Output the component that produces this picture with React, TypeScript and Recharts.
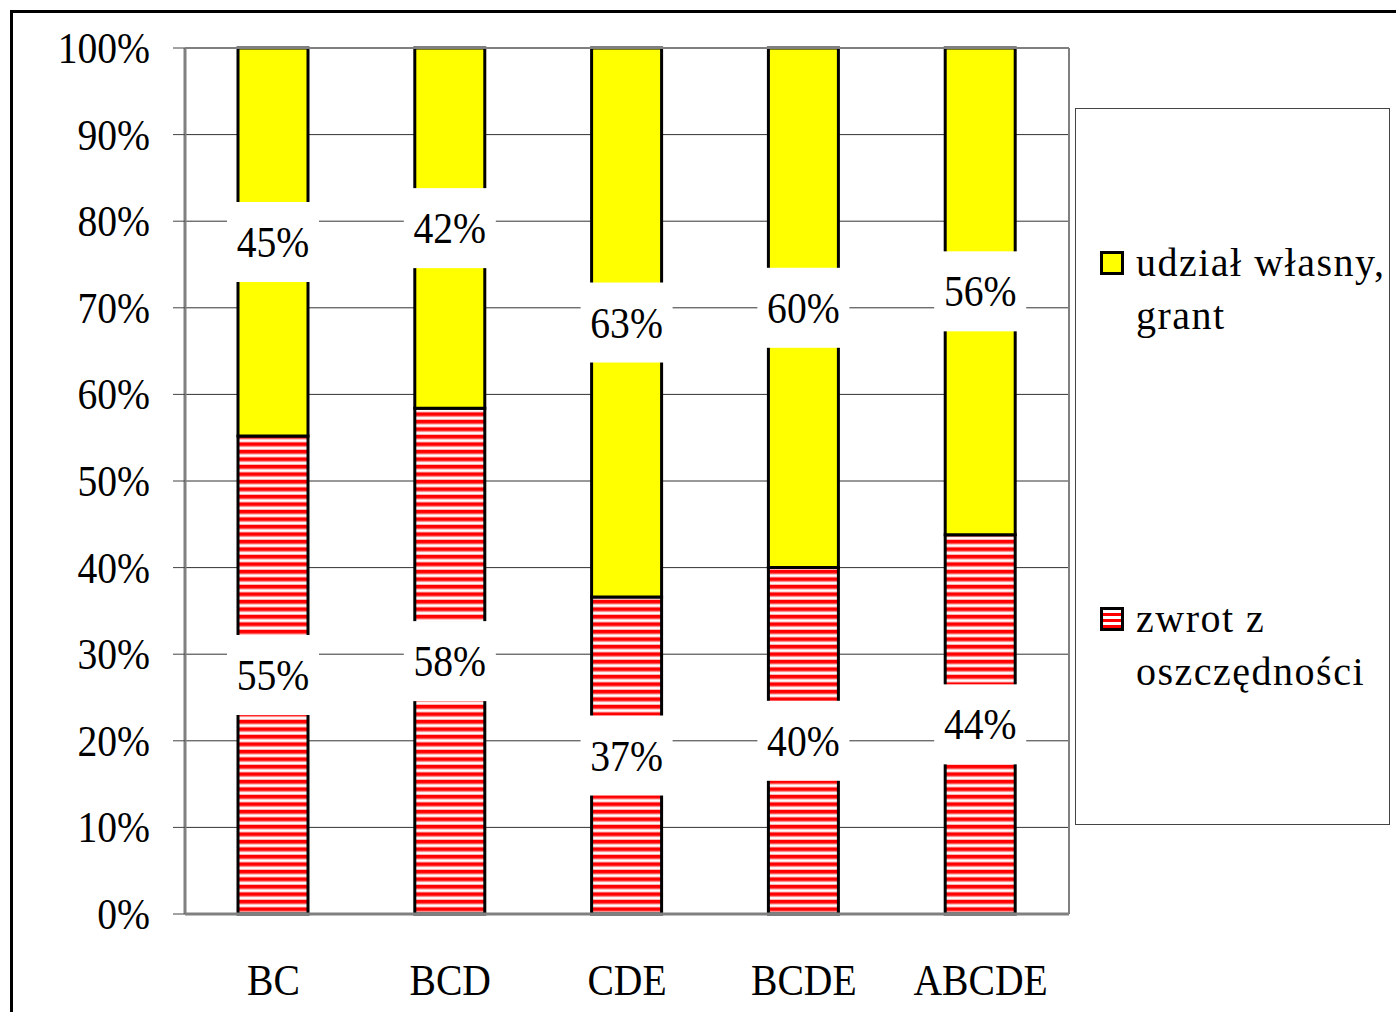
import React from 'react';
import { BarChart, Bar, XAxis, YAxis, CartesianGrid, LabelList } from 'recharts';

const categories = ['BC', 'BCD', 'CDE', 'BCDE', 'ABCDE'];
const zwrotValues = [55.2, 58.4, 36.6, 40.0, 43.8];
const udzialValues = [44.8, 41.6, 63.4, 60.0, 56.2];
const yTicks = [0, 10, 20, 30, 40, 50, 60, 70, 80, 90, 100];
const boundaryTicks = [0, 1, 2, 3, 4, 5];
const legendLines = {
  udzial: ['udział własny,', 'grant'],
  zwrot: ['zwrot z', 'oszczędności'],
};

const data = categories.map((name, i) => ({ name, zwrot: zwrotValues[i], udzial: udzialValues[i] }));

const FONT = 'Liberation Serif';

const BoxLabel = (props: any) => {
  const { x, y, width, height, value } = props;
  const cx = x + width / 2;
  const cy = y + height / 2;
  return (
    <g>
      <rect x={cx - 46} y={cy - 40} width={92} height={80} fill="#ffffff" />
      <text
        x={cx}
        y={cy + 15}
        textAnchor="middle"
        fontSize={44}
        style={{ fontFamily: FONT }}
        fill="#000"
        transform={`translate(${cx} 0) scale(0.9 1) translate(${-cx} 0)`}
      >
        {Math.round(value)}%
      </text>
    </g>
  );
};

const AxisTick = (props: any) => {
  const { x, y, payload, textAnchor, suffix, dyOff } = props;
  return (
    <text
      x={x}
      y={y + dyOff}
      textAnchor={textAnchor}
      fontSize={44}
      fill="#000"
      style={{ fontFamily: FONT }}
      transform={`translate(${x} 0) scale(0.9 1) translate(${-x} 0)`}
    >
      {payload.value}
      {suffix}
    </text>
  );
};

const Swatch = ({ fill }: { fill: string }) => (
  <svg width={24} height={24} style={{ position: 'absolute', left: 0, top: 15 }}>
    <defs>
      <pattern id="legendStripes" patternUnits="userSpaceOnUse" width={8} height={6}>
        <rect width={8} height={6} fill="#ffffff" />
        <rect y={0} width={8} height={3} fill="#ff0000" />
      </pattern>
    </defs>
    <rect x={1.5} y={1.5} width={21} height={21} fill={fill} stroke="#000" strokeWidth={3} />
  </svg>
);

export default function App() {
  return (
    <div style={{ position: 'absolute', left: 0, top: 0, width: 1396, height: 1012, overflow: 'hidden', background: '#fff' }}>
      <div style={{ position: 'absolute', left: 10, top: 10, width: 1500, height: 1100, border: '3px solid #000' }} />
      <div style={{ position: 'absolute', left: 0, top: 0 }}>
        <BarChart
          width={1396}
          height={1012}
          data={data}
          margin={{ top: 47, right: 326, bottom: 0, left: 0 }}
          style={{ fontFamily: FONT }}
        >
          <defs>
            <pattern id="redStripes" patternUnits="userSpaceOnUse" width={10} height={7.5}>
              <rect width={10} height={7.5} fill="#ffffff" />
              <rect y={0} width={10} height={3.6} fill="#ff0000" />
              <rect y={3.6} width={10} height={1} fill="#ff9c9c" />
              <rect y={6.5} width={10} height={1} fill="#ffb0b0" />
            </pattern>
          </defs>
          <CartesianGrid vertical={false} stroke="#333" strokeWidth={1} yAxisId="l" xAxisId="cat" />
          <XAxis
            xAxisId="b"
            type="number"
            domain={[0, 5]}
            ticks={boundaryTicks}
            allowDataOverflow
            tick={false}
            tickSize={12}
            height={12}
            axisLine={{ stroke: '#808080', strokeWidth: 3 }}
            tickLine={{ stroke: '#555' }}
          />
          <XAxis
            xAxisId="cat"
            dataKey="name"
            axisLine={false}
            tickLine={false}
            height={86}
            tickMargin={33}
            tick={<AxisTick suffix="" dyOff={30} />}
          />
          <XAxis
            xAxisId="t"
            orientation="top"
            type="number"
            domain={[0, 5]}
            allowDataOverflow
            height={1}
            tick={false}
            tickLine={false}
            axisLine={{ stroke: '#808080', strokeWidth: 2 }}
          />
          <YAxis
            yAxisId="l"
            domain={[0, 100]}
            ticks={yTicks}
            width={185}
            tickSize={12}
            tickMargin={23}
            axisLine={{ stroke: '#808080', strokeWidth: 3 }}
            tickLine={{ stroke: '#444' }}
            tick={<AxisTick suffix="%" dyOff={15} />}
          />
          <YAxis
            yAxisId="r"
            orientation="right"
            domain={[0, 100]}
            width={1}
            tick={false}
            tickLine={false}
            axisLine={{ stroke: '#808080', strokeWidth: 2 }}
          />
          <Bar
            dataKey="zwrot"
            stackId="s"
            xAxisId="cat"
            yAxisId="l"
            barSize={70}
            fill="url(#redStripes)"
            stroke="#000"
            strokeWidth={3}
            isAnimationActive={false}
          >
            <LabelList dataKey="zwrot" content={BoxLabel} />
          </Bar>
          <Bar
            dataKey="udzial"
            stackId="s"
            xAxisId="cat"
            yAxisId="l"
            barSize={70}
            fill="#ffff00"
            stroke="#000"
            strokeWidth={3}
            isAnimationActive={false}
          >
            <LabelList dataKey="udzial" content={BoxLabel} />
          </Bar>
        </BarChart>
      </div>
      <div
        style={{
          position: 'absolute',
          left: 1075,
          top: 108,
          width: 313,
          height: 715,
          border: '1px solid #444',
          fontFamily: FONT,
          fontSize: 40,
          letterSpacing: 1.5,
          lineHeight: '53px',
          color: '#000',
        }}
      >
        <div style={{ position: 'absolute', left: 24, top: 127 }}>
          <Swatch fill="#ffff00" />
          <div style={{ marginLeft: 36 }}>
            {legendLines.udzial.map((t) => (
              <div key={t} style={{ whiteSpace: 'nowrap' }}>{t}</div>
            ))}
          </div>
        </div>
        <div style={{ position: 'absolute', left: 24, top: 483 }}>
          <Swatch fill="url(#legendStripes)" />
          <div style={{ marginLeft: 36 }}>
            {legendLines.zwrot.map((t) => (
              <div key={t} style={{ whiteSpace: 'nowrap' }}>{t}</div>
            ))}
          </div>
        </div>
      </div>
    </div>
  );
}
